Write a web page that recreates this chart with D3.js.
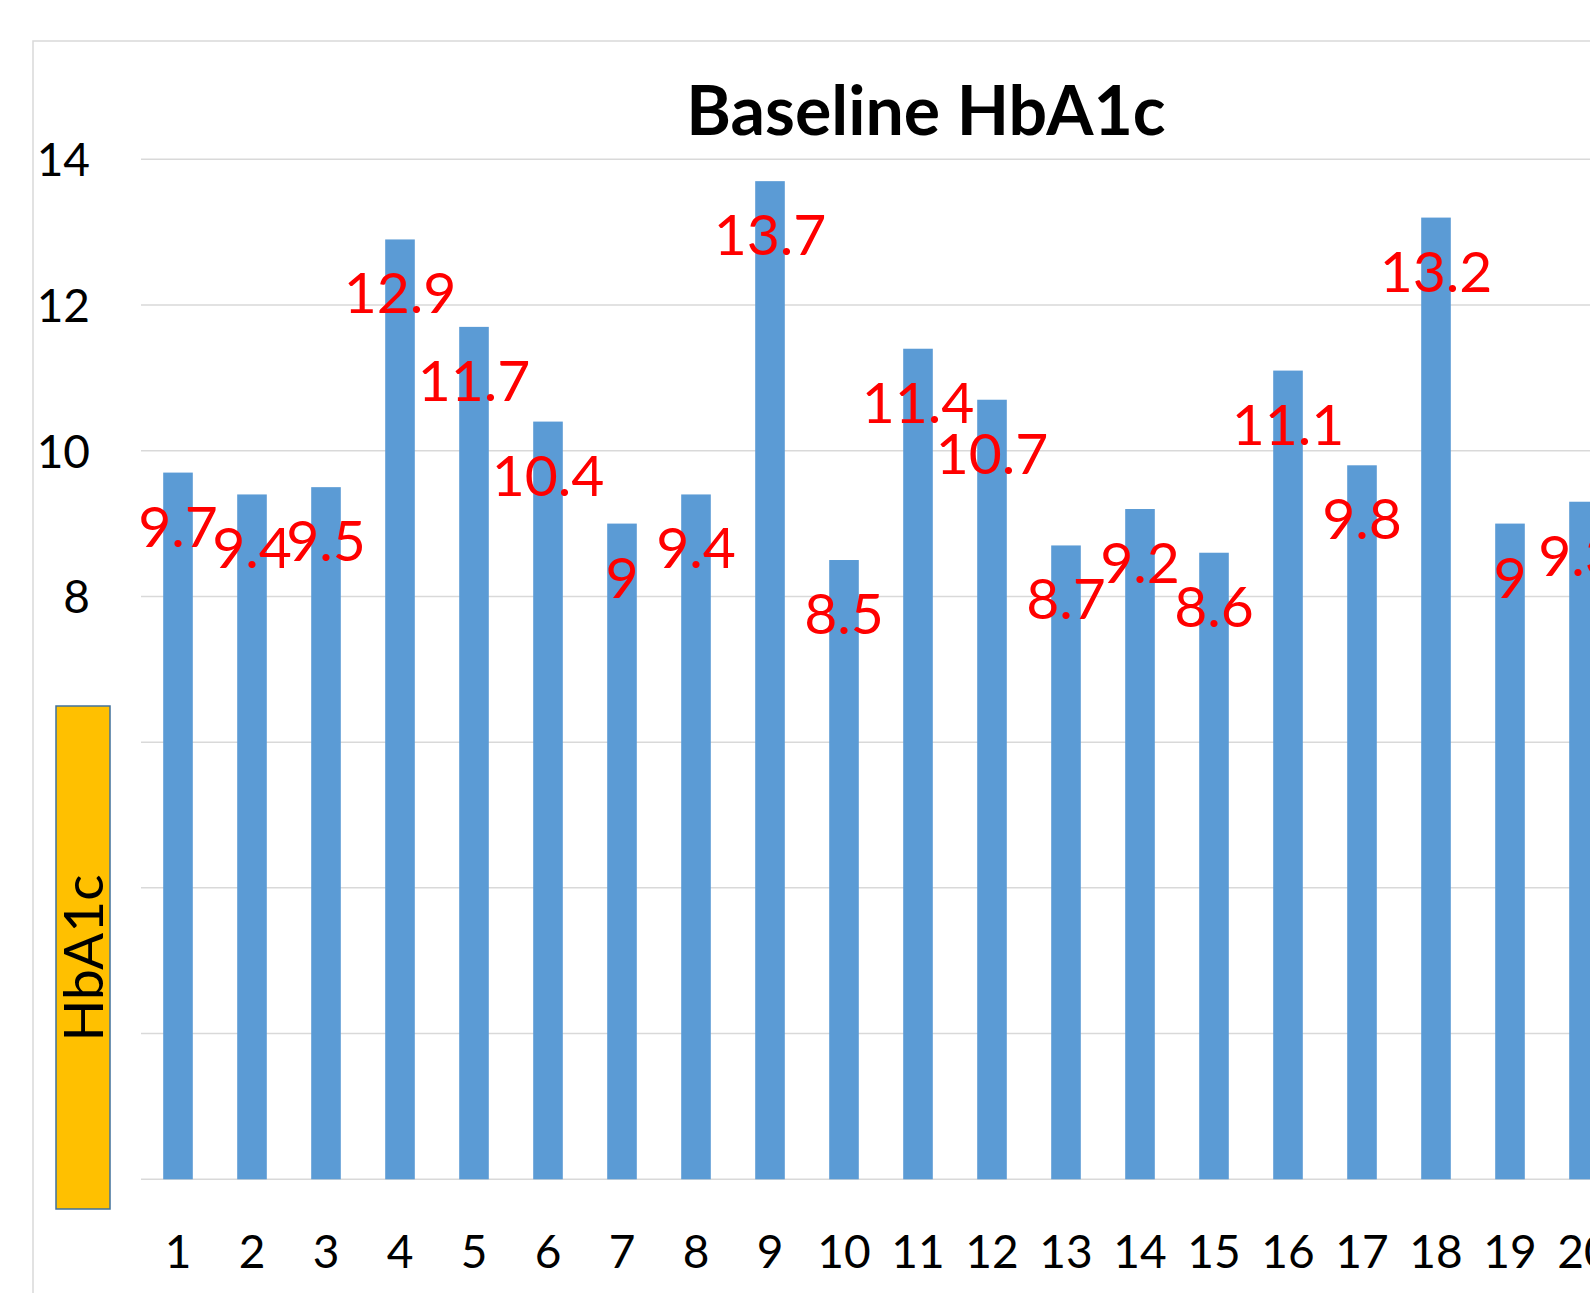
<!DOCTYPE html>
<html>
<head>
<meta charset="utf-8">
<script src="https://cdn.jsdelivr.net/npm/d3@7"></script>
<style>
  body { margin: 0; background: #fff; }
  svg { display: block; }
</style>
</head>
<body>
<svg width="1590" height="1293"></svg>
<script>
// data
const patients = ["1","2","3","4","5","6","7","8","9","10","11","12","13","14","15","16","17","18","19","20"];
const hba1c = [9.7, 9.4, 9.5, 12.9, 11.7, 10.4, 9, 9.4, 13.7, 8.5, 11.4, 10.7, 8.7, 9.2, 8.6, 11.1, 9.8, 13.2, 9, 9.3];
const yTicks = [0, 2, 4, 6, 8, 10, 12, 14];

const font = "Lato, 'Open Sans', sans-serif";
const svg = d3.select("svg");

// chart frame (cropped on the right and bottom)
svg.append("rect")
    .attr("x", 33).attr("y", 41)
    .attr("width", 1700).attr("height", 1400)
    .attr("fill", "#fff")
    .attr("stroke", "#d9d9d9")
    .attr("stroke-width", 1.5);

const x = d3.scaleBand()
    .domain(patients)
    .range([141, 141 + 74 * patients.length])
    .paddingInner(0.6)
    .paddingOuter(0.3);

const y = d3.scaleLinear()
    .domain([0, 14])
    .range([1179.3, 159.3]);

// gridlines
svg.append("g")
    .selectAll("line")
    .data(yTicks)
    .join("line")
    .attr("x1", 141).attr("x2", 1700)
    .attr("y1", d => y(d)).attr("y2", d => y(d))
    .attr("stroke", "#d9d9d9")
    .attr("stroke-width", 1.5);

// y tick labels
svg.append("g")
    .selectAll("text")
    .data(yTicks)
    .join("text")
    .attr("x", 90)
    .attr("y", d => y(d) + 17)
    .attr("text-anchor", "end")
    .attr("font-family", font)
    .attr("font-size", 46)
    .attr("fill", "#000")
    .text(d => d);

// bars
svg.append("g")
    .selectAll("rect")
    .data(hba1c)
    .join("rect")
    .attr("x", (d, i) => x(patients[i]))
    .attr("y", d => y(d))
    .attr("width", x.bandwidth())
    .attr("height", d => y(0) - y(d))
    .attr("fill", "#5b9bd5");

// x tick labels
svg.append("g")
    .selectAll("text")
    .data(patients)
    .join("text")
    .attr("x", d => x(d) + x.bandwidth() / 2)
    .attr("y", 1268)
    .attr("text-anchor", "middle")
    .attr("font-family", font)
    .attr("font-size", 46)
    .attr("fill", "#000")
    .text(d => d);

// value labels (last one nudged left like the original)
svg.append("g")
    .selectAll("text")
    .data(hba1c)
    .join("text")
    .attr("x", (d, i) => x(patients[i]) + x.bandwidth() / 2 - (i === hba1c.length - 1 ? 6 : 0))
    .attr("y", d => y(d) + 74)
    .attr("text-anchor", "middle")
    .attr("font-family", font)
    .attr("font-size", 57)
    .attr("fill", "#ff0000")
    .text(d => d);

// title
svg.append("text")
    .attr("x", 926)
    .attr("y", 135)
    .attr("text-anchor", "middle")
    .attr("font-family", font)
    .attr("font-weight", "bold")
    .attr("font-size", 68)
    .attr("fill", "#000")
    .text("Baseline HbA1c");

// y axis title box
const box = svg.append("g");
box.append("rect")
    .attr("x", 56).attr("y", 706)
    .attr("width", 54).attr("height", 503)
    .attr("fill", "#ffc000")
    .attr("stroke", "#41719c")
    .attr("stroke-width", 1.5);
box.append("text")
    .attr("transform", "translate(103,958) rotate(-90)")
    .attr("text-anchor", "middle")
    .attr("font-family", font)
    .attr("font-size", 55)
    .attr("fill", "#000")
    .text("HbA1c");
</script>
</body>
</html>
